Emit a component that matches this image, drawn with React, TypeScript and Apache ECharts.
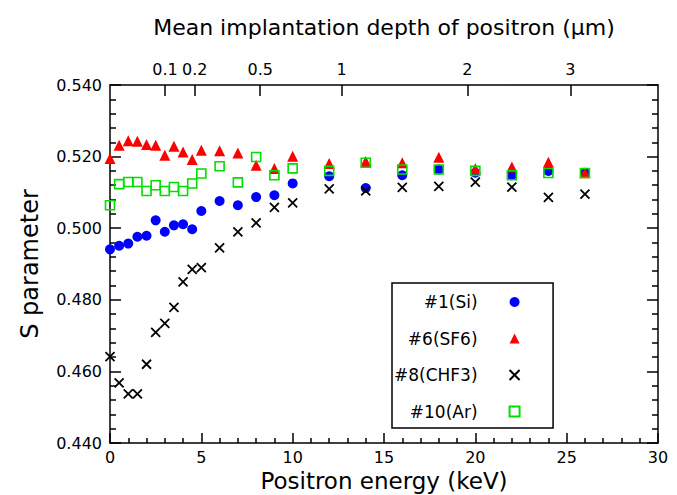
import React, { useEffect, useRef } from "react";
import * as echarts from "echarts";

// Positron beam energy (keV) for each measurement point
const energy = [0, 0.5, 1, 1.5, 2, 2.5, 3, 3.5, 4, 4.5, 5, 6, 7, 8, 9, 10, 12, 14, 16, 18, 20, 22, 24, 26];

// S parameter per sample
const sSi = [0.4941, 0.4951, 0.4957, 0.4976, 0.4979, 0.5022, 0.499, 0.5008, 0.5011, 0.4997, 0.5048, 0.5076, 0.5064, 0.5087, 0.5092, 0.5125, 0.5145, 0.5112, 0.5148, 0.5164, 0.5155, 0.5148, 0.516, 0.5154];
const sSF6 = [0.5195, 0.5232, 0.5244, 0.5243, 0.5234, 0.5232, 0.5204, 0.5229, 0.5213, 0.5192, 0.5218, 0.5216, 0.521, 0.5176, 0.5167, 0.5201, 0.5181, 0.5186, 0.5183, 0.5198, 0.5166, 0.5171, 0.5184, 0.5155];
const sCHF3 = [0.4641, 0.4568, 0.4537, 0.4537, 0.462, 0.4709, 0.4734, 0.4779, 0.485, 0.4885, 0.489, 0.4945, 0.499, 0.5015, 0.5058, 0.5071, 0.511, 0.5104, 0.5114, 0.5117, 0.5129, 0.5115, 0.5086, 0.5095];
const sAr = [0.5064, 0.5123, 0.5129, 0.5129, 0.5104, 0.512, 0.5104, 0.5115, 0.5104, 0.5125, 0.5153, 0.5173, 0.5128, 0.5199, 0.5148, 0.5167, 0.516, 0.5183, 0.5164, 0.5164, 0.516, 0.5148, 0.5154, 0.5154];

// Top axis: mean implantation depth (µm) tick labels
const depthTicks = [0.1, 0.2, 0.5, 1, 2, 3];

// Makhov relation for Si (rho = 2.33 g/cm3): z[µm] = 0.01717 * E[keV]^1.6
const depthToEnergy = (z: number) => Math.pow(z / 0.01717, 1 / 1.6);
const depthTickEnergies = depthTicks.map(depthToEnergy);

const FONT = "DejaVu Sans";

const pairs = (ys: number[]) => energy.map((e, i) => [e, ys[i]]);

export default function App() {
  const ref = useRef<HTMLDivElement>(null);

  useEffect(() => {
    if (!ref.current) return;
    const chart = echarts.init(ref.current, undefined, { renderer: "svg" });

    const axisLine = { show: true, onZero: false, lineStyle: { color: "#000", width: 1.5 } };
    const tickStyle = { color: "#000", width: 1.5 };

    chart.setOption({
      animation: false,
      backgroundColor: "#fff",
      textStyle: { fontFamily: FONT },
      grid: { left: 110, right: 19, top: 85, bottom: 52, containLabel: false, outerBoundsMode: "none" },
      xAxis: [
        {
          type: "value",
          position: "bottom",
          min: 0,
          max: 30,
          interval: 5,
          axisLine,
          axisTick: { show: true, inside: true, length: 10, lineStyle: tickStyle },
          minorTick: { show: true, splitNumber: 5, length: 5, lineStyle: tickStyle },
          splitLine: { show: false },
          axisLabel: { color: "#000", fontSize: 16, fontFamily: FONT, margin: 6 },
          name: "Positron energy (keV)",
          nameLocation: "middle",
          nameGap: 26,
          nameTextStyle: { color: "#000", fontSize: 23, fontFamily: FONT },
        },
        {
          type: "value",
          position: "top",
          min: 0,
          max: 30,
          axisLine,
          axisTick: {
            show: true,
            inside: true,
            length: 11,
            lineStyle: tickStyle,
            customValues: depthTickEnergies,
          },
          splitLine: { show: false },
          axisLabel: {
            color: "#000",
            fontSize: 16,
            fontFamily: FONT,
            margin: 8,
            customValues: depthTickEnergies,
            formatter: (v: number) => {
              const i = depthTickEnergies.findIndex((e) => Math.abs(e - v) < 1e-6);
              return i >= 0 ? String(depthTicks[i]) : "";
            },
          },
          name: "Mean implantation depth of positron (µm)",
          nameLocation: "middle",
          nameGap: 47,
          nameTextStyle: { color: "#000", fontSize: 22, fontFamily: FONT },
        },
      ],
      yAxis: [
        {
          type: "value",
          position: "left",
          min: 0.44,
          max: 0.54,
          interval: 0.02,
          axisLine,
          axisTick: { show: true, inside: true, length: 11, lineStyle: tickStyle },
          minorTick: { show: true, splitNumber: 5, length: 6, lineStyle: tickStyle },
          splitLine: { show: false },
          axisLabel: {
            color: "#000",
            fontSize: 16,
            fontFamily: FONT,
            margin: 8,
            formatter: (v: number) => v.toFixed(3),
          },
          name: "S parameter",
          nameLocation: "middle",
          nameGap: 68,
          nameTextStyle: { color: "#000", fontSize: 24, fontFamily: FONT },
        },
        {
          type: "value",
          position: "right",
          min: 0.44,
          max: 0.54,
          interval: 0.02,
          axisLine,
          axisTick: { show: true, inside: true, length: 11, lineStyle: tickStyle },
          minorTick: { show: true, splitNumber: 5, length: 6, lineStyle: tickStyle },
          splitLine: { show: false },
          axisLabel: { show: false },
        },
      ],
      legend: {
        orient: "vertical",
        left: 392,
        top: 283,
        align: "right",
        itemWidth: 10,
        itemHeight: 10,
        itemGap: 19.5,
        padding: [10.5, 31, 8, 2],
        borderColor: "#000",
        borderWidth: 1.5,
        backgroundColor: "#fff",
        textStyle: { color: "#000", fontSize: 17, fontFamily: FONT, padding: [0, 27, 0, 0] },
        data: ["#1(Si)", "#6(SF6)", "#8(CHF3)", "#10(Ar)"],
      },
      series: [
        {
          name: "#1(Si)",
          type: "scatter",
          data: pairs(sSi),
          symbol: "circle",
          symbolSize: 10,
          itemStyle: { color: "#0000ff", opacity: 1 },
        },
        {
          name: "#6(SF6)",
          type: "scatter",
          data: pairs(sSF6),
          symbol: "triangle",
          symbolSize: 11,
          itemStyle: { color: "#ff0000", opacity: 1 },
        },
        {
          name: "#8(CHF3)",
          type: "scatter",
          data: pairs(sCHF3),
          symbol: "path://M0,0L10,10M10,0L0,10",
          symbolSize: 9,
          itemStyle: { color: "none", borderColor: "#000", borderWidth: 1.8, opacity: 1 },
        },
        {
          name: "#10(Ar)",
          type: "scatter",
          data: pairs(sAr),
          symbol: "rect",
          symbolSize: 9,
          itemStyle: { color: "none", borderColor: "#00dd00", borderWidth: 1.6, opacity: 1 },
        },
      ],
    });

    return () => chart.dispose();
  }, []);

  return (
    <div
      ref={ref}
      style={{ position: "fixed", left: 0, top: 0, width: 677, height: 495 }}
    />
  );
}
